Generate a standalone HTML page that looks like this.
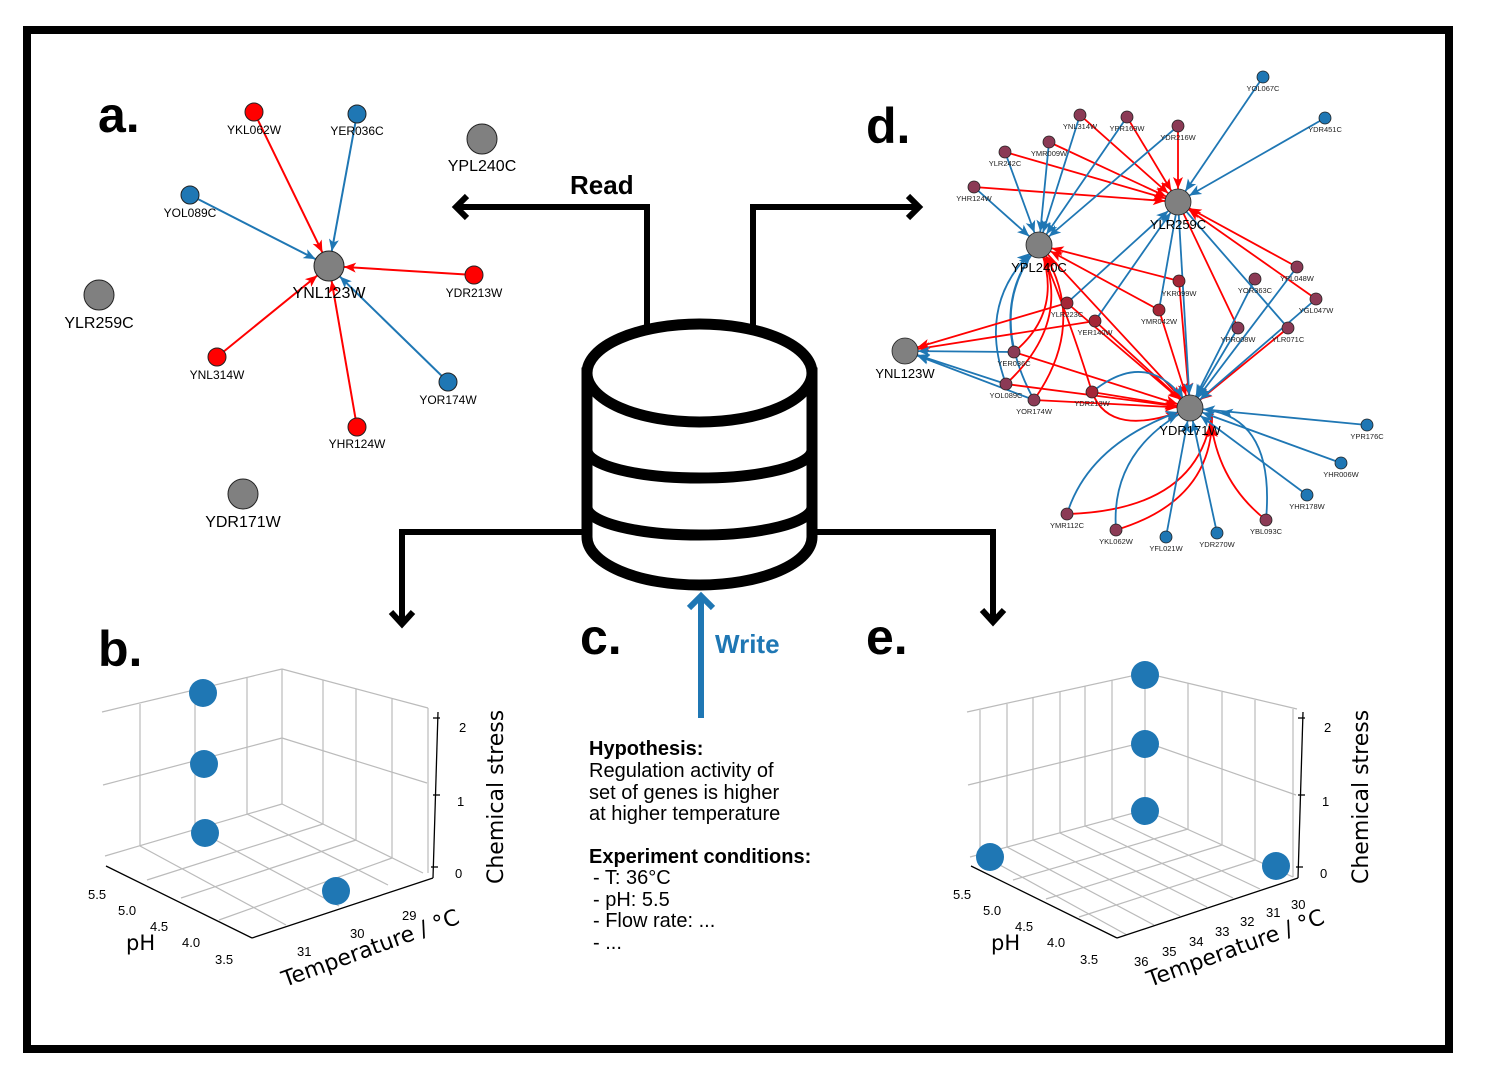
<!DOCTYPE html>
<html><head><meta charset="utf-8"><style>
html,body{margin:0;padding:0;background:#fff}
svg{display:block}
text{font-family:"Liberation Sans","DejaVu Sans",sans-serif}
.dv{font-family:"DejaVu Sans","Liberation Sans",sans-serif}
</style></head><body>
<svg width="1495" height="1077" viewBox="0 0 1495 1077" xmlns="http://www.w3.org/2000/svg">
<defs>
<marker id="ra" markerUnits="userSpaceOnUse" markerWidth="60" markerHeight="14" refX="27" refY="5" orient="auto" overflow="visible"><path d="M0,0 L12,5 L0,10 L3,5 z" fill="#f00"/></marker>
<marker id="ba" markerUnits="userSpaceOnUse" markerWidth="60" markerHeight="14" refX="27" refY="5" orient="auto" overflow="visible"><path d="M0,0 L12,5 L0,10 L3,5 z" fill="#1f77b4"/></marker>
<marker id="rd" markerUnits="userSpaceOnUse" markerWidth="60" markerHeight="14" refX="25" refY="5" orient="auto" overflow="visible"><path d="M0,0 L12,5 L0,10 L3,5 z" fill="#f00"/></marker>
<marker id="bd" markerUnits="userSpaceOnUse" markerWidth="60" markerHeight="14" refX="25" refY="5" orient="auto" overflow="visible"><path d="M0,0 L12,5 L0,10 L3,5 z" fill="#1f77b4"/></marker>
</defs>
<rect x="27" y="30" width="1422" height="1019" fill="none" stroke="#000" stroke-width="8"/>

<g font-weight="bold" font-size="50" fill="#000">
<text x="98" y="132">a.</text>
<text x="866" y="143">d.</text>
<text x="98" y="666">b.</text>
<text x="580" y="654">c.</text>
<text x="866" y="654">e.</text>
</g>

<g stroke-width="2" fill="none">
<line x1="254" y1="112" x2="329" y2="266" stroke="#f00" marker-end="url(#ra)"/>
<line x1="357" y1="114" x2="329" y2="266" stroke="#1f77b4" marker-end="url(#ba)"/>
<line x1="190" y1="195" x2="329" y2="266" stroke="#1f77b4" marker-end="url(#ba)"/>
<line x1="474" y1="275" x2="329" y2="266" stroke="#f00" marker-end="url(#ra)"/>
<line x1="217" y1="357" x2="329" y2="266" stroke="#f00" marker-end="url(#ra)"/>
<line x1="448" y1="382" x2="329" y2="266" stroke="#1f77b4" marker-end="url(#ba)"/>
<line x1="357" y1="427" x2="329" y2="266" stroke="#f00" marker-end="url(#ra)"/>
</g>
<g stroke="#222" stroke-width="1">
<circle cx="329" cy="266" r="15" fill="#808080"/>
<circle cx="482" cy="139" r="15" fill="#808080"/>
<circle cx="99" cy="295" r="15" fill="#808080"/>
<circle cx="243" cy="494" r="15" fill="#808080"/>
<circle cx="254" cy="112" r="9" fill="#f00"/>
<circle cx="357" cy="114" r="9" fill="#1f77b4"/>
<circle cx="190" cy="195" r="9" fill="#1f77b4"/>
<circle cx="474" cy="275" r="9" fill="#f00"/>
<circle cx="217" cy="357" r="9" fill="#f00"/>
<circle cx="448" cy="382" r="9" fill="#1f77b4"/>
<circle cx="357" cy="427" r="9" fill="#f00"/>
</g>
<g font-size="12" text-anchor="middle" fill="#000">
<text x="254" y="134">YKL062W</text>
<text x="357" y="135">YER036C</text>
<text x="190" y="217">YOL089C</text>
<text x="474" y="297">YDR213W</text>
<text x="217" y="379">YNL314W</text>
<text x="448" y="404">YOR174W</text>
<text x="357" y="448">YHR124W</text>
</g>
<g font-size="16" text-anchor="middle" fill="#000">
<text x="329" y="298">YNL123W</text>
<text x="482" y="171">YPL240C</text>
<text x="99" y="328">YLR259C</text>
<text x="243" y="527">YDR171W</text>
</g>

<g stroke="#000" stroke-width="6" fill="none">
<polyline points="647,325 647,207 460,207"/>
<polyline points="467,196 456,207 467,218"/>
<polyline points="753,325 753,207 915,207"/>
<polyline points="908,196 919,207 908,218"/>
<polyline points="587,532 402,532 402,622"/>
<polyline points="391,612 402,624 413,612"/>
<polyline points="812,532 993,532 993,620"/>
<polyline points="982,610 993,622 1004,610"/>
</g>
<g stroke="#000" stroke-width="11" fill="#fff">
<path d="M587,373 L587,537 A112.5,48 0 0 0 812,537 L812,373 Z"/>
<ellipse cx="699.5" cy="373" rx="112.5" ry="49"/>
<path d="M587,450 A112.5,28 0 0 0 812,450" fill="none"/>
<path d="M587,507 A112.5,28 0 0 0 812,507" fill="none"/>
</g>
<text x="570" y="194" font-size="26" font-weight="bold">Read</text>
<line x1="701" y1="718" x2="701" y2="598" stroke="#1f77b4" stroke-width="6"/>
<polyline points="689,608 701,596 713,608" stroke="#1f77b4" stroke-width="6" fill="none"/>
<text x="715" y="653" font-size="26" font-weight="bold" fill="#1f77b4">Write</text>

<g font-size="20" fill="#000">
<text x="589" y="755" font-weight="bold">Hypothesis:</text>
<text x="589" y="777">Regulation activity of</text>
<text x="589" y="799">set of genes is higher</text>
<text x="589" y="820">at higher temperature</text>
<text x="589" y="863" font-weight="bold">Experiment conditions:</text>
<text x="593" y="884"> - T: 36°C</text>
<text x="593" y="906"> - pH: 5.5</text>
<text x="593" y="927"> - Flow rate: ...</text>
<text x="593" y="949"> - ...</text>
</g>

<g stroke="#bbb" stroke-width="1.2" fill="none">
<line x1="105" y1="856" x2="282" y2="804"/><line x1="103" y1="785" x2="282" y2="738"/><line x1="102" y1="712" x2="282" y2="669"/>
<line x1="282" y1="804" x2="423" y2="873"/><line x1="282" y1="738" x2="427" y2="783"/><line x1="282" y1="669" x2="428" y2="708"/>
<line x1="282" y1="669" x2="282" y2="804"/>
<line x1="140" y1="846" x2="140" y2="704"/><line x1="195" y1="829" x2="195" y2="690"/><line x1="247" y1="814" x2="247" y2="678"/>
<line x1="323" y1="824" x2="323" y2="680"/><line x1="356" y1="840" x2="356" y2="689"/><line x1="392" y1="858" x2="392" y2="699"/><line x1="428" y1="873" x2="428" y2="708"/>
<line x1="140" y1="846" x2="286" y2="925"/><line x1="195" y1="829" x2="339" y2="906"/><line x1="247" y1="814" x2="388" y2="885"/>
<line x1="323" y1="824" x2="147" y2="880"/><line x1="356" y1="840" x2="181" y2="898"/><line x1="392" y1="858" x2="219" y2="920"/>
</g>
<g stroke="#000" stroke-width="1.3" fill="none">
<line x1="106" y1="866" x2="252" y2="938"/><line x1="252" y1="938" x2="433" y2="878"/><line x1="438" y1="712" x2="433" y2="878"/>
<line x1="433" y1="718" x2="440" y2="718"/><line x1="433" y1="795" x2="440" y2="795"/><line x1="431" y1="867" x2="438" y2="867"/>
</g>
<g fill="#1f77b4"><circle cx="203" cy="693" r="14"/><circle cx="204" cy="764" r="14"/><circle cx="205" cy="833" r="14"/><circle cx="336" cy="891" r="14"/></g>
<g font-size="13" fill="#000" class="dv">
<text x="88" y="899">5.5</text><text x="118" y="915">5.0</text><text x="150" y="931">4.5</text><text x="182" y="947">4.0</text><text x="215" y="964">3.5</text>
<text x="297" y="956">31</text><text x="350" y="938">30</text><text x="402" y="920">29</text>
<text x="459" y="732">2</text><text x="457" y="806">1</text><text x="455" y="878">0</text>
</g>
<text x="126" y="950" font-size="21" class="dv">pH</text>
<text transform="translate(285,987) rotate(-20)" font-size="22" class="dv">Temperature / °C</text>
<text transform="translate(503,884) rotate(-90)" font-size="22" class="dv">Chemical stress</text>

<g stroke="#bbb" stroke-width="1.2" fill="none">
<line x1="970" y1="857" x2="1145" y2="810"/><line x1="968" y1="785" x2="1145" y2="742"/><line x1="967" y1="712" x2="1145" y2="673"/>
<line x1="1145" y1="810" x2="1293" y2="877"/><line x1="1145" y1="742" x2="1296" y2="795"/><line x1="1145" y1="673" x2="1297" y2="709"/>
<line x1="1145" y1="673" x2="1145" y2="810"/>
<line x1="980" y1="854" x2="980" y2="710"/><line x1="1007" y1="847" x2="1007" y2="704"/><line x1="1033" y1="840" x2="1033" y2="698"/><line x1="1060" y1="833" x2="1060" y2="692"/><line x1="1085" y1="826" x2="1085" y2="686"/><line x1="1112" y1="819" x2="1112" y2="680"/>
<line x1="1188" y1="829" x2="1188" y2="683"/><line x1="1222" y1="845" x2="1222" y2="692"/><line x1="1255" y1="860" x2="1255" y2="700"/><line x1="1293" y1="877" x2="1293" y2="709"/>
<line x1="980" y1="854" x2="1127" y2="935"/><line x1="1007" y1="847" x2="1154" y2="925"/><line x1="1033" y1="840" x2="1180" y2="916"/><line x1="1060" y1="833" x2="1207" y2="907"/><line x1="1085" y1="826" x2="1233" y2="898"/><line x1="1112" y1="819" x2="1260" y2="889"/>
<line x1="1188" y1="829" x2="1013" y2="880"/><line x1="1222" y1="845" x2="1046" y2="899"/><line x1="1255" y1="860" x2="1079" y2="917"/>
</g>
<g stroke="#000" stroke-width="1.3" fill="none">
<line x1="971" y1="866" x2="1117" y2="938"/><line x1="1117" y1="938" x2="1298" y2="878"/><line x1="1303" y1="712" x2="1298" y2="878"/>
<line x1="1298" y1="718" x2="1305" y2="718"/><line x1="1298" y1="795" x2="1305" y2="795"/><line x1="1296" y1="867" x2="1303" y2="867"/>
</g>
<g fill="#1f77b4"><circle cx="1145" cy="675" r="14"/><circle cx="1145" cy="744" r="14"/><circle cx="1145" cy="811" r="14"/><circle cx="990" cy="857" r="14"/><circle cx="1276" cy="866" r="14"/></g>
<g font-size="13" fill="#000" class="dv">
<text x="953" y="899">5.5</text><text x="983" y="915">5.0</text><text x="1015" y="931">4.5</text><text x="1047" y="947">4.0</text><text x="1080" y="964">3.5</text>
<text x="1134" y="966">36</text><text x="1162" y="956">35</text><text x="1189" y="946">34</text><text x="1215" y="936">33</text><text x="1240" y="926">32</text><text x="1266" y="917">31</text><text x="1291" y="909">30</text>
<text x="1324" y="732">2</text><text x="1322" y="806">1</text><text x="1320" y="878">0</text>
</g>
<text x="991" y="950" font-size="21" class="dv">pH</text>
<text transform="translate(1150,987) rotate(-20)" font-size="22" class="dv">Temperature / °C</text>
<text transform="translate(1368,884) rotate(-90)" font-size="22" class="dv">Chemical stress</text>

<g stroke-width="1.8" fill="none">
<g stroke="#f00" marker-end="url(#rd)">
<line x1="1080" y1="115" x2="1178" y2="202"/><line x1="1127" y1="117" x2="1178" y2="202"/><line x1="1178" y1="126" x2="1178" y2="202"/>
<line x1="1049" y1="142" x2="1178" y2="202"/><line x1="1005" y1="152" x2="1178" y2="202"/><line x1="974" y1="187" x2="1178" y2="202"/>
<line x1="1297" y1="267" x2="1178" y2="202"/><line x1="1316" y1="299" x2="1178" y2="202"/>
</g>
<g stroke="#1f77b4" marker-end="url(#bd)">
<line x1="1263" y1="77" x2="1178" y2="202"/><line x1="1325" y1="118" x2="1178" y2="202"/>
<line x1="1067" y1="303" x2="1178" y2="202"/><line x1="1095" y1="321" x2="1178" y2="202"/>
</g>
<g stroke="#1f77b4" marker-end="url(#bd)">
<line x1="974" y1="187" x2="1039" y2="245"/><line x1="1005" y1="152" x2="1039" y2="245"/><line x1="1049" y1="142" x2="1039" y2="245"/>
<line x1="1080" y1="115" x2="1039" y2="245"/><line x1="1127" y1="117" x2="1039" y2="245"/><line x1="1178" y1="126" x2="1039" y2="245"/>
<path d="M1006,384 Q975,300 1039,245"/><path d="M1034,400 Q985,310 1039,245"/><path d="M1014,352 Q1000,290 1039,245"/>
</g>
<g stroke="#f00" marker-end="url(#rd)">
<line x1="1179" y1="281" x2="1039" y2="245"/><line x1="1159" y1="310" x2="1039" y2="245"/>
<path d="M1014,352 Q1065,310 1039,245"/><path d="M1006,384 Q1075,320 1039,245"/><path d="M1034,400 Q1090,320 1039,245"/><path d="M1092,392 Q1070,320 1039,245"/>
</g>
<g stroke="#f00" marker-end="url(#rd)">
<line x1="1067" y1="303" x2="905" y2="351"/><line x1="1095" y1="321" x2="905" y2="351"/>
</g>
<g stroke="#1f77b4" marker-end="url(#bd)">
<line x1="1014" y1="352" x2="905" y2="351"/><line x1="1006" y1="384" x2="905" y2="351"/><line x1="1034" y1="400" x2="905" y2="351"/>
</g>
<g stroke="#f00" marker-end="url(#rd)">
<line x1="1039" y1="245" x2="1190" y2="408"/><line x1="1067" y1="303" x2="1190" y2="408"/><line x1="1095" y1="321" x2="1190" y2="408"/>
<line x1="1014" y1="352" x2="1190" y2="408"/><line x1="1006" y1="384" x2="1190" y2="408"/><line x1="1034" y1="400" x2="1190" y2="408"/>
<line x1="1092" y1="392" x2="1190" y2="408"/><line x1="1159" y1="310" x2="1190" y2="408"/><line x1="1179" y1="281" x2="1190" y2="408"/>
<line x1="1288" y1="328" x2="1190" y2="408"/>
<path d="M1092,392 Q1110,440 1190,408"/>
<path d="M1067,514 Q1200,510 1212,412"/><path d="M1116,530 Q1215,500 1212,412"/><path d="M1266,520 Q1215,480 1210,412"/>
</g>
<line x1="1178" y1="202" x2="1238" y2="328" stroke="#f00"/>
<g stroke="#1f77b4" marker-end="url(#bd)">
<line x1="1178" y1="202" x2="1190" y2="408"/><line x1="1238" y1="328" x2="1190" y2="408"/><line x1="1297" y1="267" x2="1190" y2="408"/>
<line x1="1316" y1="299" x2="1190" y2="408"/><line x1="1255" y1="279" x2="1190" y2="408"/>
<line x1="1367" y1="425" x2="1190" y2="408"/><line x1="1341" y1="463" x2="1190" y2="408"/><line x1="1307" y1="495" x2="1190" y2="408"/>
<line x1="1217" y1="533" x2="1190" y2="408"/><line x1="1166" y1="537" x2="1190" y2="408"/>
<path d="M1067,514 Q1090,440 1190,408"/><path d="M1116,530 Q1110,450 1190,408"/><path d="M1266,520 Q1275,420 1208,410"/>
<path d="M1092,392 Q1150,345 1190,408"/>
</g>
<line x1="1178" y1="202" x2="1288" y2="328" stroke="#1f77b4"/>
<line x1="1178" y1="202" x2="1159" y2="310" stroke="#1f77b4"/>
</g>
<g stroke="#222" stroke-width="0.8">
<circle cx="1178" cy="202" r="13" fill="#808080"/><circle cx="1039" cy="245" r="13" fill="#808080"/>
<circle cx="905" cy="351" r="13" fill="#808080"/><circle cx="1190" cy="408" r="13" fill="#808080"/>
<g fill="#1f77b4">
<circle cx="1263" cy="77" r="6"/><circle cx="1325" cy="118" r="6"/><circle cx="1367" cy="425" r="6"/><circle cx="1341" cy="463" r="6"/>
<circle cx="1307" cy="495" r="6"/><circle cx="1217" cy="533" r="6"/><circle cx="1166" cy="537" r="6"/>
</g>
<g fill="#8b3a55">
<circle cx="1080" cy="115" r="6"/><circle cx="1127" cy="117" r="6"/><circle cx="1178" cy="126" r="6"/><circle cx="1049" cy="142" r="6"/>
<circle cx="1005" cy="152" r="6"/><circle cx="974" cy="187" r="6"/><circle cx="1255" cy="279" r="6"/><circle cx="1297" cy="267" r="6"/>
<circle cx="1316" cy="299" r="6"/><circle cx="1238" cy="328" r="6"/><circle cx="1288" cy="328" r="6"/><circle cx="1014" cy="352" r="6"/>
<circle cx="1006" cy="384" r="6"/><circle cx="1034" cy="400" r="6"/><circle cx="1266" cy="520" r="6"/><circle cx="1116" cy="530" r="6"/><circle cx="1067" cy="514" r="6"/>
</g>
<g fill="#a52636">
<circle cx="1179" cy="281" r="6"/><circle cx="1159" cy="310" r="6"/><circle cx="1067" cy="303" r="6"/><circle cx="1095" cy="321" r="6"/><circle cx="1092" cy="392" r="6"/>
</g>
</g>
<g font-size="7.5" text-anchor="middle" fill="#222">
<text x="1263" y="91">YOL067C</text><text x="1325" y="132">YDR451C</text><text x="1080" y="129">YNL314W</text><text x="1127" y="131">YPR169W</text>
<text x="1178" y="140">YDR216W</text><text x="1049" y="156">YMR009W</text><text x="1005" y="166">YLR242C</text><text x="974" y="201">YHR124W</text>
<text x="1179" y="296">YKR099W</text><text x="1255" y="293">YOR363C</text><text x="1297" y="281">YPL048W</text><text x="1316" y="313">YGL047W</text>
<text x="1067" y="317">YLR223C</text><text x="1095" y="335">YER140W</text><text x="1159" y="324">YMR042W</text><text x="1238" y="342">YPR008W</text>
<text x="1288" y="342">YLR071C</text><text x="1014" y="366">YER036C</text><text x="1006" y="398">YOL089C</text><text x="1034" y="414">YOR174W</text>
<text x="1092" y="406">YDR213W</text><text x="1367" y="439">YPR176C</text><text x="1341" y="477">YHR006W</text><text x="1307" y="509">YHR178W</text>
<text x="1266" y="534">YBL093C</text><text x="1217" y="547">YDR270W</text><text x="1166" y="551">YFL021W</text><text x="1116" y="544">YKL062W</text><text x="1067" y="528">YMR112C</text>
</g>
<g font-size="13" text-anchor="middle" fill="#000">
<text x="1178" y="229">YLR259C</text><text x="1039" y="272">YPL240C</text><text x="905" y="378">YNL123W</text><text x="1190" y="435">YDR171W</text>
</g>
</svg>
</body></html>
